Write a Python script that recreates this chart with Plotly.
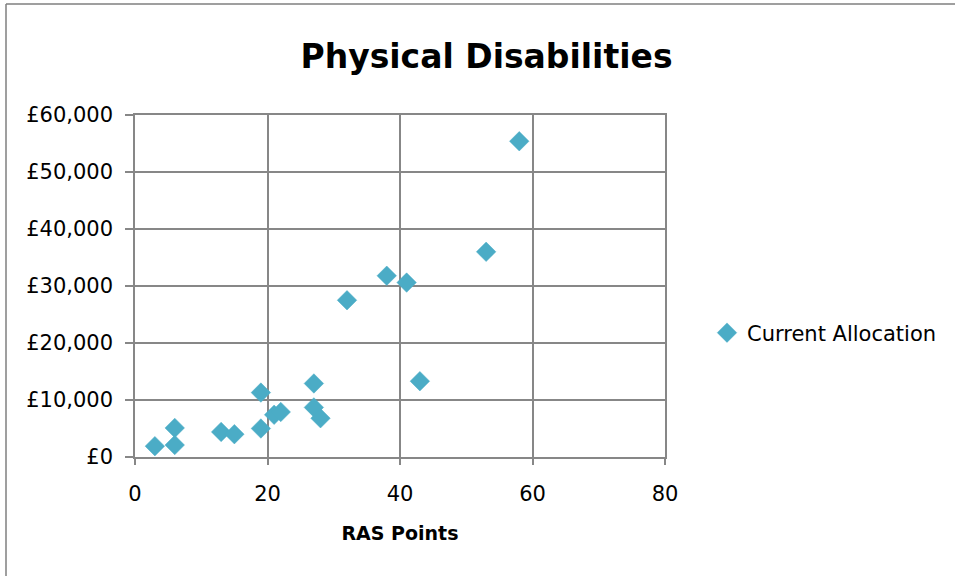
import plotly.graph_objects as go

ras_points = [3, 6, 6, 13, 15, 19, 19, 21, 22, 27, 27, 28, 32, 38, 41, 43, 53, 58]
allocation = [1900, 5100, 2100, 4400, 4000, 11300, 5000, 7400, 7900, 12900, 8700, 6800,
              27500, 31800, 30600, 13300, 36000, 55400]
series_name = "Current Allocation"
title_text = "Physical Disabilities"
x_title = "RAS Points"

FONT = "'DejaVu Sans', Verdana, sans-serif"
GRID = "#878787"

fig = go.Figure()
fig.add_trace(go.Scatter(
    x=ras_points, y=allocation, mode="markers", name=series_name,
    marker=dict(symbol="diamond", size=15, color="#4BACC6",
                line=dict(width=0.5, color="#4BACC6")),
))

L, R, T, B = 135, 665, 115, 457
W, H = 955, 576
pw, ph = R - L, B - T

def px(xp):
    return (xp - L) / pw

def py(yp):
    return (B - yp) / ph

fig.update_layout(
    width=W, height=H,
    margin=dict(l=L, r=W - R, t=T, b=H - B, pad=0),
    paper_bgcolor="white", plot_bgcolor="white",
    font=dict(family=FONT, size=21, color="black"),
    title=dict(text="<b>" + title_text + "</b>", x=486.5 / W, xanchor="center",
               y=1 - 56 / H, yanchor="middle",
               font=dict(family=FONT, size=33, color="black")),
    showlegend=True,
    legend=dict(x=px(707), y=py(333), xanchor="left", yanchor="middle",
                font=dict(family=FONT, size=21, color="black"),
                bgcolor="rgba(0,0,0,0)", itemwidth=30),
    xaxis=dict(range=[0, 80], dtick=20, tick0=0,
               showgrid=True, gridcolor=GRID, gridwidth=1.5,
               showline=True, linecolor=GRID, linewidth=1.5, mirror=True,
               ticks="outside", ticklen=6, tickcolor=GRID, tickwidth=1.5,
               ticklabelstandoff=11,
               zeroline=False,
               title=dict(text="<b>" + x_title + "</b>", standoff=22,
                          font=dict(family=FONT, size=19, color="black"))),
    yaxis=dict(range=[0, 60000], dtick=10000, tick0=0,
               tickprefix="£", tickformat=",d",
               showgrid=True, gridcolor=GRID, gridwidth=1.5,
               showline=True, linecolor=GRID, linewidth=1.5, mirror=True,
               ticks="outside", ticklen=8, tickcolor=GRID, tickwidth=1.5,
               ticklabelstandoff=8,
               zeroline=False),
)

# outer chart border (top and left visible)
fig.add_shape(type="line", xref="paper", yref="paper",
              x0=px(6), y0=py(4), x1=px(960), y1=py(4),
              line=dict(color="#7f7f7f", width=1.5))
fig.add_shape(type="line", xref="paper", yref="paper",
              x0=px(6), y0=py(4), x1=px(6), y1=py(580),
              line=dict(color="#7f7f7f", width=1.5))

fig.write_html("out.html", config={"displayModeBar": False},
               post_script="document.body.style.margin='0';document.body.style.overflow='hidden';")
